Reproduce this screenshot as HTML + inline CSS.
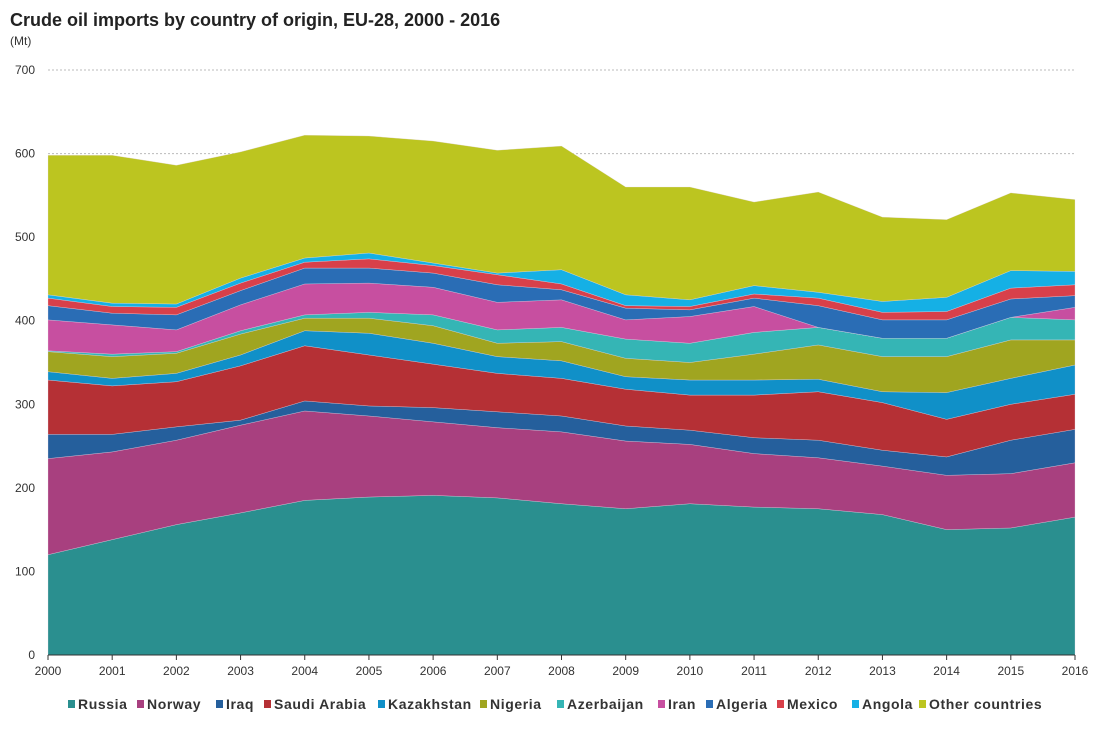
<!DOCTYPE html>
<html><head><meta charset="utf-8"><style>
body{margin:0;background:#fff;font-family:"Liberation Sans",sans-serif}
svg{display:block}
</style></head><body>
<svg id="c" width="1116" height="738">
<text x="10" y="26" font-size="18" font-weight="bold" fill="#222">Crude oil imports by country of origin, EU-28, 2000 - 2016</text>
<text x="10" y="45" font-size="12" fill="#333">(Mt)</text>
<g id="grid"></g><g id="areas"></g><g id="axes"></g><g id="legend"></g>
</svg>
<script>
const years=[2000,2001,2002,2003,2004,2005,2006,2007,2008,2009,2010,2011,2012,2013,2014,2015,2016];
const yTicks=[0,100,200,300,400,500,600,700];
const seriesNames=["Russia","Norway","Iraq","Saudi Arabia","Kazakhstan","Nigeria","Azerbaijan","Iran","Algeria","Mexico","Angola","Other countries"];
const russia=[120,138,156,170,185,189,191,188,181,175,181,177,175,168,150,152,165];
const norway=[115,105,101,105,107,97,88,84,86,81,71,64,61,58,65,65,65];
const iraq=[29,21,16,6,12,12,17,19,19,18,17,19,21,19,22,40,40];
const saudi=[65,58,54,65,66,61,52,46,45,44,42,51,58,57,45,43,42];
const kazakhstan=[10,9,10,13,18,26,25,20,21,15,18,18,15,13,32,31,35];
const nigeria=[24,26,24,25,15,18,21,16,23,22,21,31,41,42,43,46,30];
const azerbaijan=[1,3,2,4,4,7,13,16,17,23,23,26,21,22,22,27,24];
const iran=[37,35,26,31,37,35,33,33,33,23,32,31,0,0,0,0,15];
const algeria=[17,14,18,17,19,18,17,21,12,14,8,10,26,22,22,22,14];
const mexico=[9,8,9,9,7,11,9,12,7,3,4,5,9,9,10,13,13];
const angola=[4,4,4,6,5,7,3,2,17,13,8,10,7,13,17,21,16];
const other=[167,177,166,151,147,140,146,147,148,129,135,100,120,101,93,93,86];
const seriesData=[russia,norway,iraq,saudi,kazakhstan,nigeria,azerbaijan,iran,algeria,mexico,angola,other];
const colors=["#2a8f8f","#a8407f","#255f9c","#b53035","#1090c8","#a0a520","#35b5b5","#c74fa0","#2a6db5","#d8404a","#15b0e5","#bcc520"];
const NS="http://www.w3.org/2000/svg";
const X0=48,X1=1075,Y0=655,Y1=70;
const x=i=>X0+(X1-X0)*i/(years.length-1);
const y=v=>Y0-(Y0-Y1)*v/700;
function mk(t,a,p){const e=document.createElementNS(NS,t);for(const k in a)e.setAttribute(k,a[k]);p.appendChild(e);return e;}
const grid=document.getElementById('grid'),areas=document.getElementById('areas'),axes=document.getElementById('axes'),legend=document.getElementById('legend');
yTicks.forEach(t=>{
 if(t>0){const l=mk('line',{x1:X0,x2:X1,y1:y(t),y2:y(t),stroke:'#bbb','stroke-dasharray':'2,2'},grid);
 
 }
 const tx=mk('text',{x:35,y:y(t)+4,'font-size':12,'text-anchor':'end',fill:'#333'},axes);tx.textContent=t;
 
 
});
let base=years.map(()=>0);
seriesData.forEach((s,k)=>{
 const top=base.map((b,i)=>b+s[i]);
 let d='M'+years.map((_,i)=>x(i)+','+y(top[i])).join('L');
 for(let i=years.length-1;i>=0;i--)d+='L'+x(i)+','+y(base[i]);
 const p=mk('path',{d:d+'Z',fill:colors[k],stroke:'#e8d8e8','stroke-width':0.5,'stroke-opacity':0.6},areas);
 
 
 base=top;
});
const ax=mk('line',{x1:X0,x2:X1,y1:Y0,y2:Y0,stroke:'#333'},axes);


years.forEach((yr,i)=>{
 mk('line',{x1:x(i),x2:x(i),y1:Y0,y2:Y0+5,stroke:'#333'},axes);
 const tx=mk('text',{x:x(i),y:Y0+20,'font-size':12,'text-anchor':'middle',fill:'#333'},axes);tx.textContent=yr;
 
 
});
const lx=[68,137,216,264,378,480,557,658,706,777,852,919];
seriesNames.forEach((n,k)=>{
 const g=mk('g',{},legend);
 
 
 mk('rect',{x:lx[k],y:700,width:7,height:8,fill:colors[k]},g);
 const t=mk('text',{x:lx[k]+10,y:709,'font-size':14,'font-weight':'bold',fill:'#333','letter-spacing':'0.6'},g);t.textContent=n;
});
</script>
</body></html>
